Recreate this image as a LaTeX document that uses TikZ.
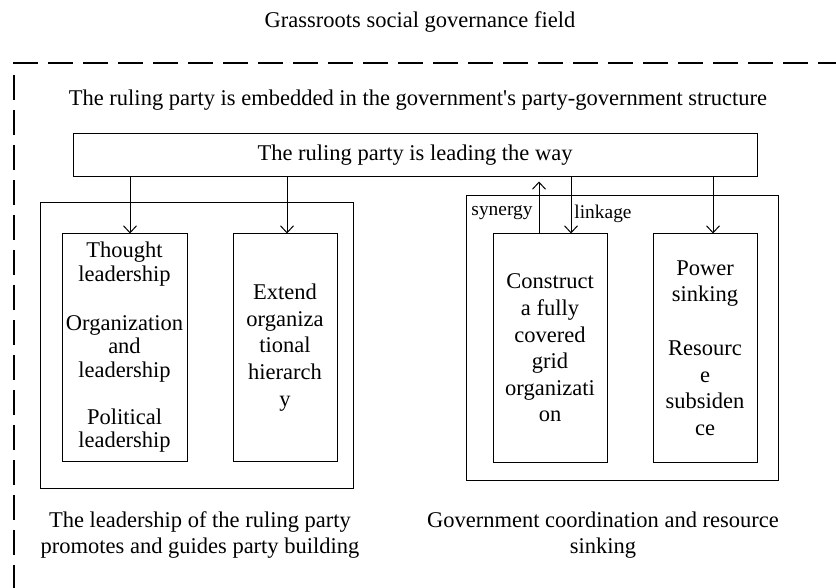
\documentclass[tikz,border=0pt]{standalone}
\usepackage{fontspec}
\setmainfont{Liberation Serif}
\usepackage{tikz}
\usetikzlibrary{arrows.meta}

\begin{document}
\begin{tikzpicture}[x=0.5pt,y=-0.5pt,line width=0.5pt,
		box/.style={draw=black, inner sep=0pt, align=center, font=\fontsize{11.25}{13.3}\selectfont},
		lbl/.style={inner sep=0pt, align=center, font=\fontsize{11.25}{13}\selectfont},
		small/.style={inner sep=0pt, font=\fontsize{9.7}{11}\selectfont},
		arr/.style={-{Straight Barb[length=3.5pt,width=6.5pt]}},
		field/.style={line width=1.3pt, dash pattern=on 12.5pt off 5pt}]
		\useasboundingbox (0,0) rectangle (836,588);
		\node (title) [lbl] at (420,22) {Grassroots social governance field};
		\draw[field] (13,63) -- (836,63);
		\draw[field] (14,75) -- (14,588);
		\node (embed) [lbl] at (418,100) {The ruling party is embedded in the government\textquotesingle s party-government structure};
		\node (lead) [box, minimum width=342pt, minimum height=21.5pt] at (415,155.5) {The ruling party is leading the way};
		
		\node (leftouter) [box, minimum width=156.5pt, minimum height=142.5pt] at (196.5,345.5) {};
		\node (t1) [box, minimum width=62.5pt, minimum height=113.5pt, font=\fontsize{11.25}{11.75}\selectfont] at (124.5,347.5) {Thought\\leadership\\[12.75pt]Organization\\and\\leadership\\[11.75pt]Political\\leadership};
		\node (t2) [box, minimum width=52pt, minimum height=113.5pt] at (285,347.5) {Extend\\organiza\\tional\\hierarch\\y};
		\draw[arr] ([xshift=2.75pt]t1.north |- lead.south) -- ([xshift=2.75pt]t1.north);
		\draw[arr] ([xshift=1pt]t2.north |- lead.south) -- ([xshift=1pt]t2.north);
		
		\node (rightouter) [box, minimum width=156pt, minimum height=142pt] at (622,338) {};
		\node (t3) [box, minimum width=57pt, minimum height=114pt] at (550,348) {Construct\\a fully\\covered\\grid\\organizati\\on};
		\node (t4) [box, minimum width=52pt, minimum height=114pt] at (705,348) {Power\\sinking\\[13.7pt]Resourc\\e\\subsiden\\ce};
		\draw[arr] ([xshift=-5.5pt]t3.north) -- ([xshift=-5.5pt,yshift=-2pt]t3.north |- lead.south);
		\draw[arr] ([xshift=10.5pt]t3.north |- lead.south) -- ([xshift=10.5pt]t3.north);
		\draw[arr] ([xshift=4pt]t4.north |- lead.south) -- ([xshift=4pt]t4.north);
		\node (syn) [small] at (502,213) {synergy};
		\node (link) [small] at (603,214) {linkage};
		
		\node (leftcap) [lbl] at (200,535) {The leadership of the ruling party\\promotes and guides party building};
		\node (rightcap) [lbl] at (603,535) {Government coordination and resource\\sinking};
	\end{tikzpicture}
\end{document}
